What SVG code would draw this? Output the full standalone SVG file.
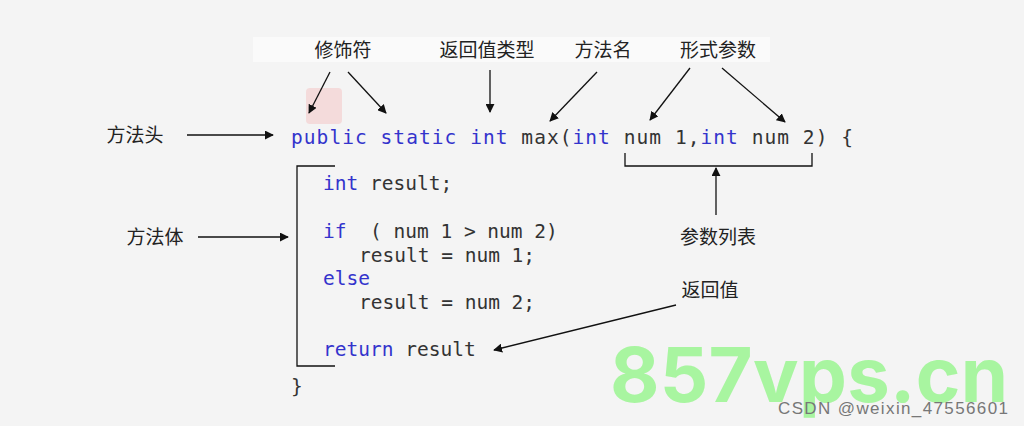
<svg xmlns="http://www.w3.org/2000/svg" width="1024" height="426" viewBox="0 0 1024 426">
<defs>
<marker id="ah" viewBox="0 0 10 10" refX="9" refY="5" markerWidth="9" markerHeight="9" orient="auto" markerUnits="userSpaceOnUse"><path d="M0,0 L10,5 L0,10 z" fill="#111"/></marker>
<style>
.lb{font-family:"Noto Sans CJK SC",sans-serif;font-size:19px;fill:#222;text-anchor:middle}
.cd{font-family:"DejaVu Sans Mono",monospace;font-size:19.5px;fill:#333;white-space:pre}
.kw{fill:#3333cc}
.ln{stroke:#111;stroke-width:1.3;fill:none}
.ar{stroke:#111;stroke-width:1.3;fill:none;marker-end:url(#ah)}
</style>
</defs>
<rect width="1024" height="426" fill="#f4f4f4"/>
<rect x="253" y="37" width="517" height="25" fill="#fafafa"/>
<rect x="306" y="88" width="36" height="36" rx="4" fill="#f4d4d4" opacity="0.8"/>
<g id="labels">
<text class="lb" x="343" y="57">修饰符</text>
<text class="lb" x="487" y="57">返回值类型</text>
<text class="lb" x="603" y="57">方法名</text>
<text class="lb" x="718" y="57">形式参数</text>
<text class="lb" x="135" y="142">方法头</text>
<text class="lb" x="155" y="244">方法体</text>
<text class="lb" x="718" y="244">参数列表</text>
<text class="lb" x="710" y="297">返回值</text>
</g>
<g id="code">
<text class="cd" x="291" y="144" textLength="562"><tspan class="kw">public static int</tspan> max(<tspan class="kw">int</tspan> num 1,<tspan class="kw">int</tspan> num 2) {</text>
<text class="cd" x="323" y="190"><tspan class="kw">int</tspan> result;</text>
<text class="cd" x="323" y="238"><tspan class="kw">if</tspan>  ( num 1 &gt; num 2)</text>
<text class="cd" x="359" y="262">result = num 1;</text>
<text class="cd" x="323" y="285"><tspan class="kw">else</tspan></text>
<text class="cd" x="359" y="309">result = num 2;</text>
<text class="cd" x="323" y="356"><tspan class="kw">return</tspan> result</text>
<text class="cd" x="291" y="393">}</text>
</g>
<g id="connectors">
<path class="ln" d="M335,166 H297 V366 H335"/>
<path class="ln" d="M625,153 V166 H812 V153"/>
<line class="ar" x1="716" y1="215" x2="716" y2="168"/>
<line class="ar" x1="330" y1="72" x2="309" y2="113"/>
<line class="ar" x1="348" y1="72" x2="386" y2="113"/>
<line class="ar" x1="490" y1="70" x2="490" y2="112"/>
<line class="ar" x1="597" y1="72" x2="550" y2="121"/>
<line class="ar" x1="690" y1="68" x2="650" y2="120"/>
<line class="ar" x1="722" y1="68" x2="785" y2="122"/>
<line class="ar" x1="187" y1="135" x2="273" y2="135"/>
<line class="ar" x1="198" y1="237" x2="288" y2="237"/>
<line class="ar" x1="676" y1="305" x2="494" y2="350"/>
</g>
<text x="610" y="402" font-family="Inter,sans-serif" font-weight="bold" font-size="76" fill="#a8f5a0" textLength="398">857vps.cn</text>
<text x="778" y="414" font-family="Liberation Sans,sans-serif" font-size="17" fill="#777" textLength="230">CSDN @weixin_47556601</text>
</svg>
